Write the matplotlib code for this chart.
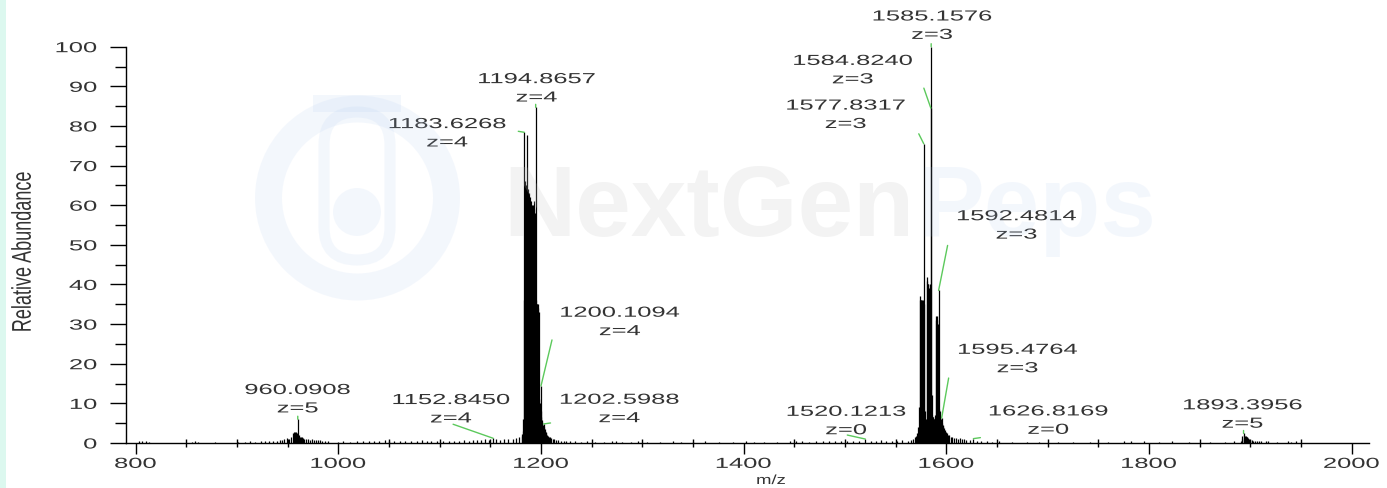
import matplotlib
matplotlib.use("Agg")
import matplotlib.pyplot as plt
from matplotlib.patheffects import AbstractPathEffect
from matplotlib.patches import Ellipse, Rectangle, FancyBboxPatch, Circle
from matplotlib.ticker import MultipleLocator
from matplotlib.transforms import Affine2D

# ---- spectrum data (m/z, relative abundance) ----
noise_mz = [803, 806, 810, 813, 856, 859, 862, 878, 901, 908, 913, 918, 924, 928, 932, 936, 940, 943,
            1000, 1005, 1012, 1019, 1024, 1030, 1035, 1040, 1046, 1050, 1055, 1061, 1066, 1072, 1078, 1083, 1088, 1092, 1097,
            1103, 1109, 1114, 1119, 1124, 1129, 1133, 1137, 1141, 1145, 1149, 1152.8450, 1156, 1160, 1164, 1168, 1172, 1175, 1178,
            1225, 1229, 1234, 1240, 1246, 1253, 1262, 1270, 1274, 1280, 1289, 1296, 1305, 1318, 1330, 1338, 1350, 1362, 1376, 1390,
            1402, 1410, 1420, 1433, 1446, 1452, 1458, 1465, 1471, 1478, 1484, 1490, 1496, 1502, 1508, 1514, 1520.1213, 1526, 1531, 1536, 1541, 1546, 1551, 1556,
            1645, 1652, 1665, 1680, 1692, 1710, 1725, 1742, 1760, 1775, 1782, 1795, 1810, 1823, 1840, 1860, 1875, 1884]
noise_ab = [0.4, 0.5, 0.4, 0.3, 0.3, 0.4, 0.3, 0.3, 0.3, 0.3, 0.4, 0.3, 0.4, 0.5, 0.4, 0.5, 0.6, 0.7,
            0.3, 0.4, 0.3, 0.5, 0.4, 0.6, 0.4, 0.5, 0.7, 0.5, 0.4, 0.6, 0.5, 0.4, 0.6, 0.7, 0.5, 0.6, 0.4,
            0.5, 0.6, 0.5, 0.6, 0.7, 0.6, 0.8, 0.7, 0.8, 0.9, 0.8, 1.2, 0.9, 0.8, 1.0, 0.9, 1.0, 1.2, 1.4,
            0.4, 0.5, 0.4, 0.3, 0.4, 0.3, 0.3, 0.5, 0.4, 0.3, 0.3, 0.4, 0.3, 0.3, 0.4, 0.3, 0.3, 0.4, 0.3, 0.3,
            0.4, 0.3, 0.3, 0.3, 0.4, 0.5, 0.4, 0.3, 0.5, 0.4, 0.6, 0.5, 0.4, 0.5, 0.6, 0.5, 1.0, 0.6, 0.5, 0.7, 0.6, 0.5, 0.6, 0.7,
            0.3, 0.4, 0.3, 0.3, 0.3, 0.3, 0.3, 0.3, 0.3, 0.4, 0.5, 0.5, 0.3, 0.4, 0.3, 0.3, 0.3, 0.4]

c960_mz = [945, 947, 949, 951, 953, 955, 956, 957, 958, 959, 960.0908, 961, 962, 963, 964, 965, 966.5,
           968, 970, 972, 974, 976, 978, 980, 982, 984, 987, 990]
c960_ab = [0.8, 1.0, 1.2, 1.0, 1.4, 2.6, 2.9, 2.7, 2.9, 2.4, 6.0, 2.0, 1.6, 1.5, 1.4, 1.2, 1.0,
           0.9, 0.9, 0.8, 0.9, 0.8, 0.8, 0.7, 0.7, 0.6, 0.5, 0.4]

c1190_mz = [1181.0, 1181.6, 1182.2, 1182.7, 1183.1, 1183.6268, 1184.1, 1184.6, 1185.1, 1185.6,
            1186.1, 1186.6, 1187.1, 1187.6, 1188.1, 1188.6, 1189.1, 1189.6, 1190.1, 1190.6,
            1191.1, 1191.6, 1192.1, 1192.6, 1193.1, 1193.6, 1194.2, 1194.8657, 1195.4, 1195.9,
            1196.4, 1196.9, 1197.4, 1197.9, 1198.4, 1198.9, 1199.4, 1199.8, 1200.1094, 1200.6,
            1201.1, 1201.6, 1202.1, 1202.5988, 1203.1, 1203.6, 1204.2, 1204.8, 1205.5, 1206.2,
            1207.0, 1208.0, 1209.0, 1210.0, 1211.5, 1213.0, 1215.0, 1217.0, 1220.0, 1223.0]
c1190_ab = [1.8, 2.2, 3.0, 6.0, 36, 78.4, 66, 65, 65, 64,
            64, 77.8, 64, 63, 63, 62, 62, 61, 61, 60,
            60, 33, 33, 60, 61, 59, 58, 84.7, 36, 35,
            35, 35, 34, 33, 11, 10, 9, 8, 14.4, 6.5,
            5.8, 5.2, 4.6, 4.8, 4.0, 3.5, 3.1, 2.8, 2.4, 2.1,
            1.8, 1.6, 1.4, 1.2, 1.0, 0.9, 0.8, 0.7, 0.6, 0.5]

c1585_mz = [1562, 1565, 1567, 1569, 1570.5, 1571.5, 1572.5, 1573.2, 1573.8, 1574.3,
            1574.8, 1575.3, 1575.8, 1576.3, 1576.8, 1577.3, 1577.8317, 1578.3, 1578.8, 1579.3,
            1579.8, 1580.3, 1580.8, 1581.3, 1581.8, 1582.3, 1582.8, 1583.3, 1583.8, 1584.3,
            1584.8240, 1585.1576, 1585.6, 1586.1, 1586.6, 1587.1, 1587.6, 1588.1, 1588.6, 1589.1,
            1589.7, 1590.2, 1590.7, 1591.2, 1591.8, 1592.4814, 1593.0, 1593.5, 1594.0, 1594.6,
            1595.0, 1595.4764, 1596.0, 1596.6, 1597.2, 1598, 1599, 1600, 1601, 1602,
            1603, 1604.5, 1606, 1608, 1610, 1612, 1614, 1616, 1618, 1620,
            1623, 1626.8169, 1630, 1634, 1640]
c1585_ab = [0.6, 0.8, 1.0, 1.4, 1.8, 2.5, 4.0, 9, 36, 37,
            36, 36, 35, 36, 35, 36, 75.5, 35, 8, 6,
            5.5, 6, 42, 41, 40, 40, 39, 38, 37, 40,
            84.5, 100, 12, 7, 6.5, 6.5, 6, 6, 6, 7,
            31, 32, 32, 31, 30, 38.5, 8.5, 8, 7.0, 6.0,
            5.6, 6.3, 5.0, 4.6, 4.4, 3.8, 3.2, 2.8, 2.4, 2.1,
            1.9, 1.6, 1.4, 1.3, 1.2, 1.1, 1.2, 1.0, 0.9, 0.8,
            0.8, 1.1, 0.6, 0.5, 0.4]

c1893_mz = [1890.5, 1891.5, 1892.3, 1893.3956, 1894.0, 1894.8, 1895.6, 1896.4, 1897.2, 1898,
            1899, 1900, 1901.5, 1903, 1905, 1907, 1909, 1911, 1916, 1917.5, 1926, 1937, 1940, 1945]
c1893_ab = [0.5, 1.0, 1.8, 2.4, 2.0, 1.7, 1.8, 1.6, 1.5, 1.2,
            0.9, 0.8, 0.7, 0.6, 0.6, 0.6, 0.5, 0.5, 0.5, 0.5, 0.3, 0.4, 0.3, 0.4]

# labelled peaks and their charge states
label_mz = [960.0908, 1152.8450, 1183.6268, 1194.8657, 1200.1094, 1202.5988, 1520.1213,
            1577.8317, 1584.8240, 1585.1576, 1592.4814, 1595.4764, 1626.8169, 1893.3956]
label_z = [5, 4, 4, 4, 4, 4, 0, 3, 3, 3, 3, 3, 0, 5]

x_ticks = [800, 1000, 1200, 1400, 1600, 1800, 2000]
y_ticks = [0, 10, 20, 30, 40, 50, 60, 70, 80, 90, 100]

mz = noise_mz + c960_mz + c1190_mz + c1585_mz + c1893_mz
ab = noise_ab + c960_ab + c1190_ab + c1585_ab + c1893_ab
peak_height = dict(zip(mz, ab))


class Stretch(AbstractPathEffect):
    """draw text wider than the font, like the stretched screenshot"""
    def __init__(self, sx, anchor=0.5):
        super().__init__()
        self.sx = sx
        self.anchor = anchor

    def draw_path(self, renderer, gc, tpath, affine, rgbFace=None):
        box = tpath.get_extents(affine)
        x0 = box.x0 + self.anchor * box.width
        t = affine + Affine2D().translate(-x0, 0).scale(self.sx, 1).translate(x0, 0)
        renderer.draw_path(gc, tpath, t, rgbFace)


plt.rcParams['font.family'] = ['Liberation Sans', 'DejaVu Sans']
TEXT = "#333333"
GREEN = "#5cc95c"
W, H = 1387, 488

fig = plt.figure(figsize=(W / 100, H / 100), dpi=100)
fig.add_artist(Rectangle((0, 0), 6 / W, 1, transform=fig.transFigure,
                         facecolor="#dcf8ef", edgecolor="none", zorder=0))

ax = fig.add_axes([125.5 / W, 45 / H, 1243.5 / W, 396.3 / H])
ax.vlines(mz, 0, ab, colors="black", linewidth=0.9, clip_on=False)

ax.set_xlim(790.1, 2017.2)
ax.set_ylim(0, 100)
ax.set_xticks(x_ticks)
ax.xaxis.set_minor_locator(MultipleLocator(50))
ax.set_yticks(y_ticks)
ax.yaxis.set_minor_locator(MultipleLocator(5))
for side in ("top", "right"):
    ax.spines[side].set_visible(False)
for side in ("left", "bottom"):
    ax.spines[side].set_linewidth(1.0)
ax.tick_params(axis="x", which="major", length=8, width=1, pad=2, labelsize=10.5, labelcolor=TEXT)
ax.tick_params(axis="x", which="minor", length=6, width=1, direction="inout")
ax.tick_params(axis="y", which="major", length=11.5, width=1, pad=9, labelsize=10.5, labelcolor=TEXT)
ax.tick_params(axis="y", which="minor", length=8, width=1)
for lbl in ax.get_xticklabels():
    lbl.set_path_effects([Stretch(1.75)])
for lbl in ax.get_yticklabels():
    lbl.set_path_effects([Stretch(1.75, anchor=1.0)])

ax.set_xlabel("m/z", fontsize=9.5, color=TEXT, va="center", path_effects=[Stretch(1.4)])
ax.xaxis.set_label_coords((771 - 125.5) / 1243.5, (443 - 481) / 396.3)
ax.set_ylabel("Relative Abundance", fontsize=13, color=TEXT, va="center", path_effects=[Stretch(1.5)])
ax.yaxis.set_label_coords((23 - 125.5) / 1243.5, (443 - 252) / 396.3)

# label offsets from the peak top (pixels): text centre, leader start
label_layout = [
    ((0, 20), (0, 3)),
    ((-42, 29), (-40, 14)),
    ((-77, -1), (-6, 1)),
    ((1, 19), (0, 3)),
    ((79, 64), (11, 46)),
    ((76, 15), (7, 1)),
    ((-19, 18), (-18, 4)),
    ((-78, 29), (-5, 10)),
    ((-78, 38), (-7, 20)),
    ((1, 21), (0, 3)),
    ((78, 65), (9, 45)),
    ((76, 59), (7, 40)),
    ((75, 18), (7, 1)),
    ((-1, 19), (0, 3)),
]
for m, z, (toff, loff) in zip(label_mz, label_z, label_layout):
    h = peak_height[m]
    ax.annotate("", xy=(m, h), xytext=loff, textcoords="offset pixels",
                arrowprops=dict(arrowstyle="-", color=GREEN, lw=1, shrinkA=0, shrinkB=0))
    ax.annotate(f"{m:.4f}\nz={z}", xy=(m, h), xytext=toff, textcoords="offset pixels",
                ha="center", va="center", fontsize=10.5, color=TEXT, linespacing=1.4,
                path_effects=[Stretch(1.75)])

# faint NextGenPeps watermark on top of the plot
img = Affine2D().scale(1, -1).translate(0, H)
blue = "#a9c6ee"
grey = "#c4c4c4"
fig.add_artist(Ellipse((357.5, 198), 178, 178, transform=img, fill=False,
                       edgecolor=blue, linewidth=27 * 0.72, alpha=0.13, zorder=5))
fig.add_artist(FancyBboxPatch((324, 112), 66, 148, boxstyle="round,pad=0,rounding_size=33",
                              transform=img, fill=False, edgecolor=blue, linewidth=8,
                              alpha=0.13, zorder=5))
fig.add_artist(Rectangle((313, 95), 88, 17, transform=img, facecolor=blue,
                         edgecolor="none", alpha=0.13, zorder=5))
fig.add_artist(Circle((357, 212), 24, transform=img, facecolor=blue,
                      edgecolor="none", alpha=0.13, zorder=5))
fig.text(915 / W, 1 - 236 / H, "NextGen", fontsize=72, fontweight="bold",
         color=grey, alpha=0.2, ha="right", va="baseline", zorder=6)
fig.text(917 / W, 1 - 236 / H, "Peps", fontsize=72, fontweight="bold",
         color=blue, alpha=0.13, ha="left", va="baseline", zorder=6)

fig.savefig("out.png", dpi=100)
